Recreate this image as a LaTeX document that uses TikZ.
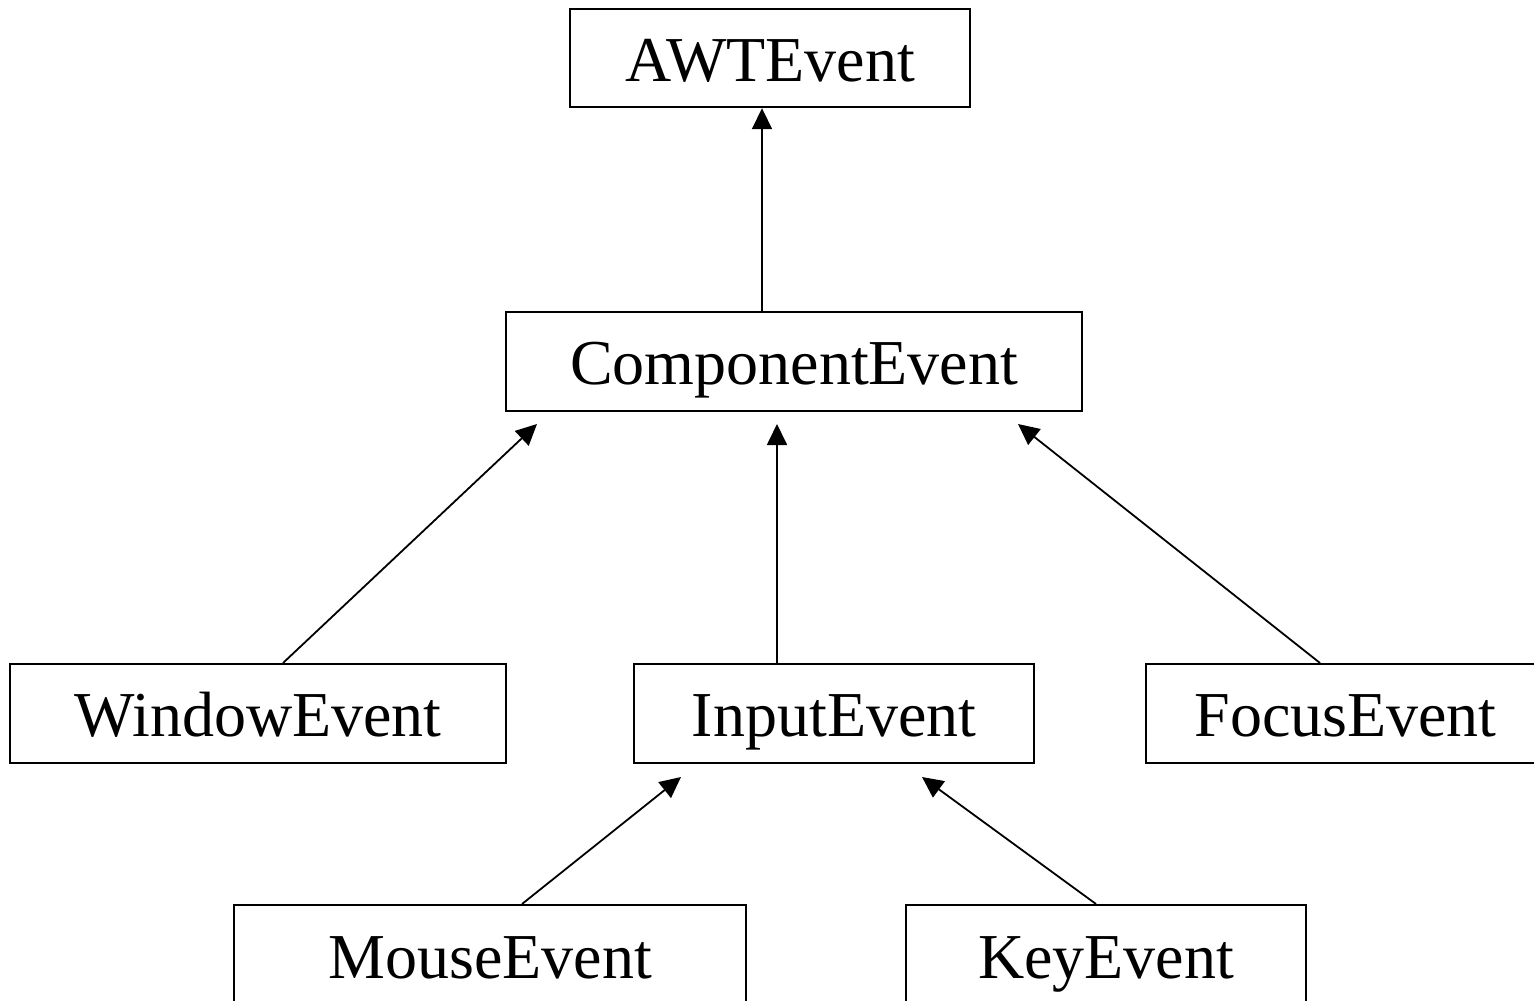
\documentclass[tikz,border=0pt]{standalone}
\usepackage{fontspec}
\setmainfont{Liberation Serif}
\usetikzlibrary{arrows.meta}
\begin{document}
\begin{tikzpicture}[x=1pt,y=-1pt,
  cls/.style={draw,line width=2.2pt,inner sep=0pt,anchor=north west,text height=46pt,text depth=0pt,font=\fontsize{64}{70}\selectfont},
  arr/.style={line width=1.8pt,-{Triangle[length=21pt,width=20pt]}}]
\useasboundingbox (0,0) rectangle (1534,1001);
\node[cls,minimum width=400,minimum height=98] (awt) at (569,8) {AWTEvent};
\node[cls,minimum width=576,minimum height=99] (comp) at (505,311) {ComponentEvent};
\node[cls,minimum width=496,minimum height=99] (win) at (9,663) {WindowEvent};
\node[cls,minimum width=400,minimum height=99] (inp) at (633,663) {InputEvent};
\node[cls,minimum width=389,minimum height=99] (foc) at (1145,663) {\hspace{10pt}FocusEvent};
\node[cls,minimum width=512,minimum height=100] (mou) at (233,904) {MouseEvent};
\node[cls,minimum width=400,minimum height=100] (key) at (905,904) {KeyEvent};
\coordinate (t1) at (537,424);
\coordinate (t2) at (777,424);
\coordinate (t3) at (1018,424);
\coordinate (t4) at (681,777);
\coordinate (t5) at (922,777);
\draw[arr] (comp.north -| 762,0) -- (awt.south -| 762,0);
\draw[arr] (win.north -| 283,0) -- (t1);
\draw[arr] (inp.north -| 777,0) -- (t2);
\draw[arr] (foc.north -| 1320,0) -- (t3);
\draw[arr] (mou.north -| 522,0) -- (t4);
\draw[arr] (key.north -| 1096,0) -- (t5);
\end{tikzpicture}
\end{document}
